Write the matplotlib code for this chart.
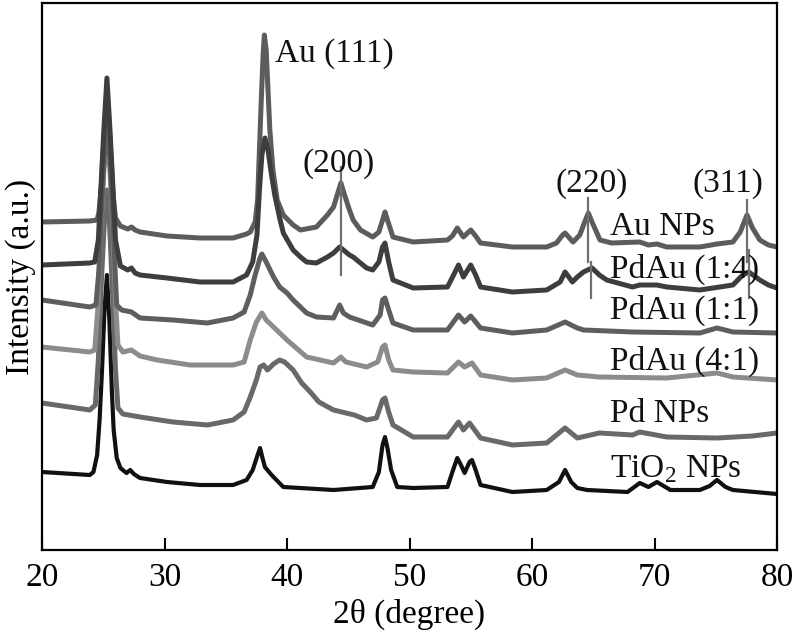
import matplotlib
matplotlib.use("Agg")
import matplotlib.pyplot as plt

plt.rcParams['font.family'] = ['Liberation Serif', 'DejaVu Serif']
plt.rcParams['mathtext.fontset'] = 'custom'
plt.rcParams['mathtext.rm'] = 'Liberation Serif'

# 2theta (degree) / intensity (a.u.)
au_x = [20.0,23.9,24.5,24.65,24.85,25.05,25.3,25.55,25.8,26.0,26.4,27.0,27.3,27.6,28.0,30.2,32.9,35.6,36.7,37.0,37.4,37.6,37.75,37.9,38.05,38.15,38.3,38.45,38.6,38.85,39.2,39.7,40.5,41.1,42.4,43.3,43.8,44.1,44.4,44.7,45.1,45.4,46.0,47.0,47.5,47.8,48.0,48.2,48.65,50.3,53.1,53.5,53.9,54.4,55.0,55.4,55.8,58.4,61.2,62.0,62.5,62.7,63.35,63.9,64.3,64.6,64.9,65.55,66.5,68.8,69.5,70.2,71.0,73.7,75.1,76.4,77.0,77.55,78.0,78.6,79.3,80.0]
au_y = [328,329,330,338,365,410,455,410,355,332,324,321,323,320,318,314,312,312,316,318,328,350,400,450,495,515,500,460,420,380,350,335,325,320,323,335,343,355,367,355,340,330,320,313,318,330,338,330,313,308,310,314,322,313,320,314,307,303,303,307,315,317,308,315,328,337,328,310,307,308,305,306,303,303,306,308,318,335,322,310,305,303]

pdau14_x = [20.0,23.9,24.3,24.6,24.8,25.05,25.3,25.55,25.8,26.0,26.4,27.0,27.3,27.6,28.0,30.2,32.9,35.6,36.7,37.2,37.55,37.75,37.95,38.2,38.45,38.7,39.0,39.4,39.7,40.5,41.1,41.6,42.4,43.3,43.8,44.3,44.6,45.1,45.4,46.5,47.0,47.5,47.8,48.0,48.3,48.65,50.3,53.1,53.6,54.0,54.4,55.0,55.4,55.8,58.4,61.2,62.3,62.7,63.3,63.7,64.2,64.9,65.5,66.1,68.2,68.8,70.2,71.0,73.7,76.4,77.2,77.7,78.6,79.3,80.0]
pdau14_y = [285,287,288,310,360,420,472,420,360,310,284,280,282,277,275,272,268,268,275,288,315,360,395,412,400,378,355,332,317,300,293,288,287,293,297,303,300,295,293,282,280,288,303,307,288,270,262,263,275,285,273,285,275,263,258,260,268,278,268,273,278,282,275,270,263,265,265,263,260,265,275,278,270,265,262]

pdau11_x = [20.0,23.9,24.4,24.65,24.85,25.05,25.3,25.55,25.8,26.0,26.1,26.5,27.3,28.0,30.7,33.5,35.6,36.5,37.0,37.4,37.8,37.95,38.3,38.9,39.4,40.0,40.5,41.6,42.4,43.8,44.3,44.6,45.1,47.0,47.6,47.8,48.0,48.3,48.65,50.3,53.1,54.0,54.5,55.0,55.8,58.4,61.2,62.7,63.7,64.2,68.2,73.7,75.1,76.4,80.0]
pdau11_y = [250,243,245,280,340,390,432,390,330,270,245,240,238,232,230,227,232,238,255,275,292,296,288,273,263,257,250,237,233,232,245,237,233,225,235,250,252,240,227,220,220,235,228,234,222,217,220,228,222,220,218,217,222,218,217]

pdau41_x = [20.0,23.9,24.3,24.55,24.8,25.05,25.3,25.55,25.8,26.0,26.2,26.6,27.3,28.0,29.4,32.1,35.6,36.5,37.0,37.5,37.95,38.3,38.9,40.0,41.6,43.8,44.4,44.8,46.5,47.4,47.8,48.0,48.3,48.65,50.3,53.1,54.0,54.5,55.1,55.8,58.4,61.2,62.7,63.7,65.5,71.0,75.1,76.4,80.0]
pdau41_y = [203,198,200,240,320,380,413,380,320,250,205,198,200,194,190,185,185,188,210,228,237,230,223,210,193,187,193,188,183,188,203,205,190,180,178,177,188,183,187,175,170,172,180,175,173,172,177,173,170]

pd_x = [20.0,23.9,24.35,24.6,24.85,25.1,25.3,25.5,25.75,26.0,26.2,26.6,28.0,30.7,33.5,35.6,36.5,37.0,37.5,37.8,38.1,38.4,38.9,39.4,39.8,40.5,41.2,41.9,42.6,43.8,45.5,46.5,47.3,47.8,48.0,48.3,48.65,50.3,53.1,54.0,54.4,54.9,55.8,58.4,61.2,62.7,63.7,65.5,68.2,68.8,71.0,75.1,78.0,80.0]
pd_y = [147,140,145,190,270,330,360,330,260,180,142,136,133,128,125,130,138,153,170,183,185,180,186,190,188,180,167,158,148,140,135,130,132,150,152,138,125,113,113,128,120,127,112,105,107,122,112,117,115,118,113,112,114,117]

tio2_x = [20.0,23.9,24.2,24.5,24.7,24.9,25.1,25.3,25.5,25.7,25.85,26.1,26.4,26.9,27.2,27.5,28.0,30.2,32.9,35.6,36.7,37.2,37.6,37.8,38.0,38.2,38.6,38.9,39.7,43.8,47.0,47.5,47.8,48.0,48.2,48.5,49.0,50.3,53.1,53.5,53.9,54.2,54.5,54.9,55.1,55.4,55.8,58.4,61.2,62.2,62.7,63.2,63.7,64.5,67.8,68.8,69.5,70.2,71.3,73.7,74.5,75.1,75.8,76.4,80.0]
tio2_y = [78,75,78,95,130,180,240,275,230,160,120,92,82,77,80,76,72,68,65,65,70,80,95,102,92,83,77,73,63,60,63,78,105,113,102,80,63,62,63,78,92,85,77,88,90,80,65,58,60,68,80,68,62,60,58,67,63,68,60,60,64,70,63,60,56]

sample_labels = ["Au NPs", "PdAu (1:4)", "PdAu (1:1)", "PdAu (4:1)", "Pd NPs", "TiO$_2$ NPs"]
label_y = [315, 272, 231, 180, 128, 73]

peak_labels = ["Au (111)", "(200)", "(220)", "(311)"]
peak_label_x = [39.0, 41.3, 61.9, 73.1]
peak_label_y = [488, 378, 358, 358]

# reference-line segments: (2theta, y0, y1)
ref_x = [44.4, 64.6, 64.85, 77.55, 77.75]
ref_y0 = [383, 352, 288, 350, 300]
ref_y1 = [275, 288, 252, 288, 252]

fig = plt.figure(figsize=(7.96, 6.32), dpi=100)
ax = fig.add_axes([42/796, 1-550/632, (777-42)/796, (550-3)/632])

curves = [
    (tio2_x, tio2_y, '#111111', 3.0),
    (pd_x, pd_y, '#696969', 3.6),
    (pdau41_x, pdau41_y, '#8c8c8c', 3.6),
    (pdau11_x, pdau11_y, '#5e5e5e', 3.6),
    (au_x, au_y, '#5c5c5c', 3.6),
    (pdau14_x, pdau14_y, '#3e3e3e', 3.6),
]
for xs, ys, c, lw in curves:
    ax.plot(xs, ys, color=c, lw=lw, solid_joinstyle='round')

for xr, a, b in zip(ref_x, ref_y0, ref_y1):
    ax.plot([xr, xr], [a, b], color='#707070', lw=1.6)

fs = 24
for t, y in zip(sample_labels, label_y):
    ax.text(66.37, y, t, fontsize=fs, va='baseline', ha='left', color='#111111')
for t, x, y in zip(peak_labels, peak_label_x, peak_label_y):
    ax.text(x, y, t, fontsize=fs, va='baseline', ha='left', color='#111111')

ax.set_xlim(20, 80)
ax.set_ylim(0, 547)
ax.set_xticks([20, 30, 40, 50, 60, 70, 80])
ax.set_yticks([])
ax.tick_params(axis='x', direction='in', length=9, width=1.5, labelsize=fs, pad=9)
for s in ax.spines.values():
    s.set_linewidth(1.6)
ax.set_xlabel("2θ (degree)", fontsize=fs, labelpad=4)
ax.set_ylabel("Intensity (a.u.)", fontsize=fs, labelpad=4)

fig.savefig("out.png", dpi=100)
